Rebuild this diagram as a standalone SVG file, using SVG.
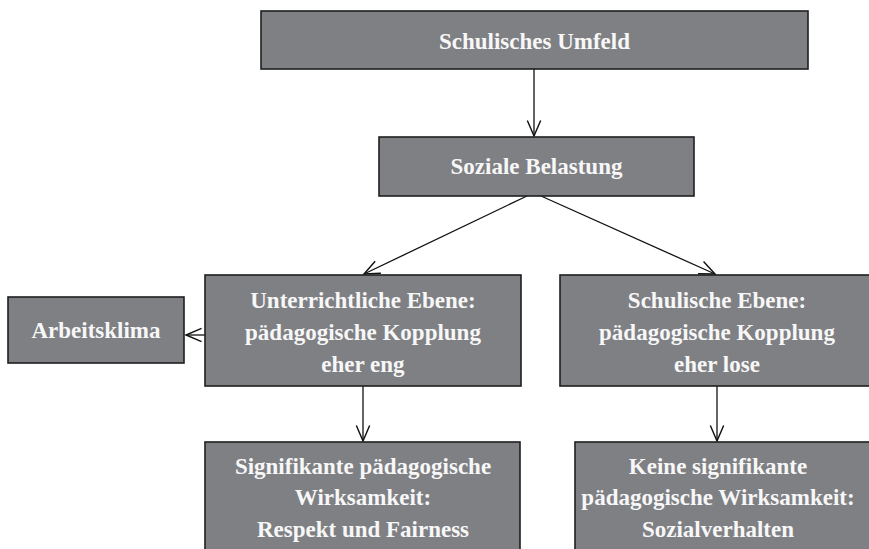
<svg xmlns="http://www.w3.org/2000/svg" width="869" height="549" viewBox="0 0 869 549">
<defs>
<style>
.box{fill:#7f8084;stroke:#1e1e1e;stroke-width:1.6}
.t{font-family:"Liberation Serif",serif;font-weight:bold;font-size:23px;fill:#f7f7f7;text-anchor:middle}
.c{stroke:#111;stroke-width:1.3;fill:none;marker-end:url(#ah)}
</style>
<marker id="ah" markerUnits="userSpaceOnUse" markerWidth="20" markerHeight="20" viewBox="-16 -8 18 16" refX="0" refY="0" orient="auto">
<path d="M-14,-6 L0,0 L-14,6" fill="none" stroke="#111" stroke-width="1.3"/>
</marker>
</defs>
<rect width="869" height="549" fill="#fff"/>
<g id="connectors">
<line class="c" x1="534" y1="69" x2="534" y2="136"/>
<line class="c" x1="527" y1="196" x2="364" y2="274"/>
<line class="c" x1="541" y1="196" x2="715" y2="274"/>
<line class="c" x1="205" y1="335" x2="186" y2="335"/>
<line class="c" x1="363" y1="386" x2="363" y2="441"/>
<line class="c" x1="717" y1="386" x2="717" y2="441"/>
</g>
<g id="n1"><rect class="box" x="261" y="11" width="547" height="58"/><text class="t" x="534.5" y="49">Schulisches Umfeld</text></g>
<g id="n2"><rect class="box" x="379" y="137" width="315" height="59"/><text class="t" x="536.5" y="174">Soziale Belastung</text></g>
<g id="n3"><rect class="box" x="205" y="275" width="316" height="111"/>
<text class="t" x="363" y="308">Unterrichtliche Ebene:</text>
<text class="t" x="363" y="340">pädagogische Kopplung</text>
<text class="t" x="363" y="372">eher eng</text></g>
<g id="n4"><rect class="box" x="560" y="275" width="315" height="111"/>
<text class="t" x="717" y="308">Schulische Ebene:</text>
<text class="t" x="717" y="340">pädagogische Kopplung</text>
<text class="t" x="717" y="372">eher lose</text></g>
<g id="n5"><rect class="box" x="8" y="297" width="176" height="66"/><text class="t" x="96" y="338">Arbeitsklima</text></g>
<g id="n6"><rect class="box" x="205" y="442" width="315" height="115"/>
<text class="t" x="363" y="474">Signifikante pädagogische</text>
<text class="t" x="363" y="505">Wirksamkeit:</text>
<text class="t" x="363" y="537">Respekt und Fairness</text></g>
<g id="n7"><rect class="box" x="575" y="442" width="305" height="115"/>
<text class="t" x="718" y="474">Keine signifikante</text>
<text class="t" x="718" y="505">pädagogische Wirksamkeit:</text>
<text class="t" x="718" y="537">Sozialverhalten</text></g>
</svg>
